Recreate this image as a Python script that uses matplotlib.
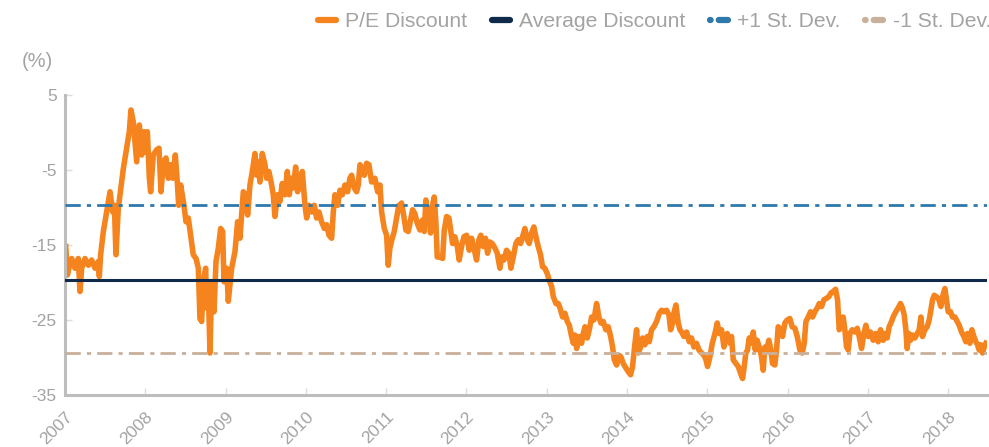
import matplotlib
matplotlib.use("Agg")
import matplotlib.pyplot as plt
from matplotlib.lines import Line2D

plt.rcParams['font.family'] = ['Liberation Sans', 'DejaVu Sans']

# P/E discount (decimal year, %)
years = [
    2007.010, 2007.030, 2007.060, 2007.083, 2007.125, 2007.166, 2007.187, 2007.208, 2007.249, 2007.291,
    2007.332, 2007.374, 2007.415, 2007.428, 2007.444, 2007.478, 2007.519, 2007.561, 2007.594, 2007.615,
    2007.635, 2007.664, 2007.685, 2007.727, 2007.768, 2007.801, 2007.822, 2007.851, 2007.872, 2007.893,
    2007.926, 2007.955, 2007.984, 2008.009, 2008.026, 2008.051, 2008.067, 2008.100, 2008.142, 2008.171,
    2008.196, 2008.225, 2008.258, 2008.287, 2008.316, 2008.341, 2008.374, 2008.399, 2008.416, 2008.441,
    2008.482, 2008.507, 2008.536, 2008.565, 2008.598, 2008.632, 2008.661, 2008.681, 2008.702, 2008.723,
    2008.752, 2008.764, 2008.785, 2008.806, 2008.827, 2008.856, 2008.881, 2008.910, 2008.939, 2008.964,
    2008.980, 2009.014, 2009.034,
    2009.076, 2009.117, 2009.150, 2009.179, 2009.221, 2009.250, 2009.275, 2009.304, 2009.333, 2009.366,
    2009.387, 2009.408, 2009.428, 2009.457, 2009.491, 2009.511, 2009.540, 2009.574, 2009.594, 2009.615,
    2009.648, 2009.677, 2009.706, 2009.740, 2009.769, 2009.794, 2009.823, 2009.843, 2009.873, 2009.897,
    2009.927, 2009.956, 2009.989, 2010.010, 2010.039, 2010.072, 2010.105, 2010.134, 2010.163, 2010.196,
    2010.230, 2010.259, 2010.288, 2010.321, 2010.342, 2010.362, 2010.396, 2010.425, 2010.454, 2010.487,
    2010.520, 2010.549, 2010.570, 2010.603, 2010.632, 2010.653, 2010.674, 2010.703, 2010.728, 2010.757,
    2010.786, 2010.819, 2010.860, 2010.894, 2010.923, 2010.944, 2010.977, 2011.006, 2011.026, 2011.047,
    2011.076, 2011.101, 2011.130, 2011.159,
    2011.172, 2011.192, 2011.221, 2011.246, 2011.275, 2011.304, 2011.329, 2011.358, 2011.387, 2011.421,
    2011.450, 2011.475, 2011.495, 2011.516, 2011.537, 2011.553, 2011.574, 2011.599, 2011.620, 2011.636,
    2011.670, 2011.703, 2011.724, 2011.753, 2011.782, 2011.803, 2011.827, 2011.856, 2011.886, 2011.910,
    2011.939, 2011.969, 2012.002, 2012.035, 2012.064, 2012.093, 2012.126, 2012.155, 2012.180, 2012.209,
    2012.238, 2012.263, 2012.292, 2012.321, 2012.355, 2012.384, 2012.417, 2012.438, 2012.467, 2012.500,
    2012.529, 2012.554, 2012.583, 2012.616, 2012.645, 2012.674, 2012.699, 2012.728, 2012.757, 2012.782,
    2012.811, 2012.840, 2012.865, 2012.894, 2012.923, 2012.948, 2012.977, 2013.006, 2013.031,
    2013.061, 2013.082, 2013.115, 2013.144, 2013.165, 2013.198, 2013.227, 2013.256, 2013.281, 2013.310,
    2013.331, 2013.351, 2013.372, 2013.405, 2013.434, 2013.455, 2013.476, 2013.505, 2013.530, 2013.559,
    2013.588, 2013.621, 2013.650, 2013.675, 2013.704, 2013.737, 2013.766, 2013.796, 2013.820, 2013.841,
    2013.870, 2013.899, 2013.924, 2013.953, 2013.986, 2014.016, 2014.045, 2014.069, 2014.099, 2014.119,
    2014.140, 2014.169, 2014.194, 2014.223, 2014.252, 2014.277, 2014.306, 2014.335, 2014.368, 2014.402,
    2014.431, 2014.460, 2014.493, 2014.522, 2014.543, 2014.568, 2014.584, 2014.609, 2014.638, 2014.659,
    2014.680, 2014.709, 2014.742, 2014.775, 2014.804, 2014.833, 2014.866, 2014.896, 2014.929, 2014.958,
    2014.983, 2015.003, 2015.033, 2015.062, 2015.095, 2015.124, 2015.149, 2015.178, 2015.207,
    2015.219, 2015.248, 2015.281, 2015.302, 2015.323, 2015.356, 2015.385, 2015.414, 2015.439, 2015.460,
    2015.480, 2015.501, 2015.522, 2015.547, 2015.572, 2015.597, 2015.621, 2015.646, 2015.675, 2015.696,
    2015.717, 2015.738, 2015.767, 2015.792, 2015.812, 2015.841, 2015.862, 2015.883, 2015.912, 2015.937,
    2015.966, 2015.995, 2016.028, 2016.057, 2016.091, 2016.120, 2016.153, 2016.182, 2016.207, 2016.228,
    2016.257, 2016.286, 2016.311, 2016.340, 2016.369, 2016.394, 2016.423, 2016.452, 2016.485, 2016.514,
    2016.539, 2016.568, 2016.597, 2016.622, 2016.643, 2016.672, 2016.692, 2016.713, 2016.734, 2016.755,
    2016.776, 2016.805, 2016.838, 2016.867, 2016.892, 2016.921, 2016.950, 2016.975, 2017.004, 2017.033,
    2017.066, 2017.095, 2017.128, 2017.157, 2017.191,
    2017.211, 2017.240, 2017.265, 2017.294, 2017.315, 2017.348, 2017.377, 2017.406, 2017.431, 2017.452,
    2017.473, 2017.489, 2017.510, 2017.531, 2017.556, 2017.585, 2017.614, 2017.639, 2017.660, 2017.680,
    2017.709, 2017.739, 2017.763, 2017.784, 2017.805, 2017.826, 2017.855, 2017.884, 2017.909, 2017.929,
    2017.959, 2017.979, 2018.000, 2018.029, 2018.054, 2018.083, 2018.112, 2018.137, 2018.166, 2018.195,
    2018.220, 2018.241, 2018.270, 2018.295, 2018.320, 2018.345, 2018.365, 2018.386, 2018.407, 2018.428,
    2018.448, 2018.469,
]
pe_discount = [
    -15.2, -19.0, -17.5, -16.8, -18.1, -16.8, -21.2, -18.1, -16.8, -17.7,
    -17.0, -18.1, -17.2, -19.2, -16.3, -13.2, -10.6, -7.9, -10.6, -9.7,
    -16.3, -10.1, -8.3, -4.8, -2.1, 0.1, 3.0, 1.4, -1.2, -3.9,
    1.0, -3.0, 0.1, -2.6, 0.1, -6.1, -7.9, -3.0, -2.3, -2.1,
    -7.9, -3.9, -3.4, -6.1, -4.3, -6.1, -3.0, -6.6, -9.7, -7.0,
    -9.7, -11.9, -11.4, -13.7, -16.3, -16.8, -18.1, -24.8, -25.2, -19.9,
    -18.1, -23.4, -20.8, -29.4, -19.9, -23.9, -17.2, -15.4, -12.8, -13.2,
    -19.9, -18.1, -22.5,
    -18.1, -15.9, -11.9, -14.1, -7.9, -8.3, -11.0, -7.0, -5.2, -2.8,
    -5.7, -3.9, -6.6, -2.8, -4.3, -6.1, -5.2, -7.0, -8.3, -11.2,
    -8.3, -9.2, -6.8, -8.3, -5.2, -8.3, -6.1, -7.4, -4.6, -7.9,
    -7.0, -5.2, -9.7, -11.4, -9.7, -10.6, -9.7, -11.4, -10.6, -11.9,
    -12.8, -12.3, -13.7, -14.1, -10.6, -8.3, -9.7, -7.7, -8.3, -7.0,
    -7.9, -6.1, -5.7, -7.4, -7.9, -7.0, -4.3, -4.8, -5.7, -4.1,
    -4.3, -6.6, -6.1, -7.9, -7.0, -10.6, -12.8, -13.7, -17.7, -15.4,
    -14.1, -13.2, -11.4, -9.7,
    -9.9, -9.4, -11.2, -13.0, -13.2, -11.7, -10.3, -10.8, -12.1, -13.0,
    -11.7, -13.2, -9.0, -11.7, -10.1, -13.4, -9.9, -8.6, -12.1, -16.6,
    -16.6, -16.8, -13.0, -11.2, -11.4, -13.0, -14.8, -13.9, -15.2, -17.0,
    -15.2, -13.9, -13.7, -15.7, -14.1, -15.4, -17.0, -14.3, -13.7, -15.2,
    -14.1, -16.1, -14.6, -14.8, -15.4, -16.1, -18.1, -16.6, -17.0, -15.7,
    -16.1, -18.1, -16.6, -14.8, -14.3, -14.8, -13.9, -12.8, -14.3, -14.8,
    -13.4, -12.6, -13.9, -15.2, -16.3, -17.9, -18.1, -18.8, -19.7,
    -20.5, -21.9, -22.8, -22.8, -23.4, -24.6, -24.1, -25.2, -25.7, -27.2,
    -28.1, -27.0, -28.8, -27.2, -28.1, -26.8, -25.9, -27.4, -26.3, -24.6,
    -25.0, -22.8, -24.6, -25.4, -25.2, -26.3, -25.9, -27.2, -28.6, -30.3,
    -31.0, -29.7, -29.9, -30.8, -31.4, -31.9, -32.3, -31.2, -28.1, -26.3,
    -29.4, -28.6, -27.4, -28.3, -27.2, -27.9, -26.3, -25.9, -25.2, -24.1,
    -23.7, -23.9, -23.7, -24.3, -26.3, -25.4, -24.1, -23.0, -25.4, -26.3,
    -26.6, -27.2, -26.6, -27.9, -27.4, -28.6, -28.1, -29.0, -29.4, -29.7,
    -30.3, -31.2, -29.9, -28.1, -26.8, -25.4, -26.8, -26.3, -28.6,
    -27.7, -26.8, -28.1, -27.2, -30.3, -30.8, -31.2, -32.1, -32.8, -31.2,
    -29.4, -29.0, -27.4, -28.1, -26.6, -29.0, -27.7, -28.6, -29.9, -31.7,
    -28.6, -29.0, -27.7, -29.0, -30.8, -31.0, -29.0, -25.9, -26.3, -27.2,
    -25.4, -25.0, -24.8, -25.9, -26.1, -27.2, -29.0, -29.4, -28.1, -25.2,
    -24.6, -23.9, -24.6, -23.9, -23.4, -22.8, -23.2, -22.3, -22.1, -21.9,
    -21.4, -21.2, -20.9, -22.3, -26.3, -25.4, -24.6, -26.3, -28.6, -29.0,
    -26.8, -26.3, -26.6, -26.1, -27.2, -28.8, -26.8, -25.7, -27.2, -26.6,
    -27.7, -26.8, -27.9, -26.3, -27.7,
    -26.8, -27.4, -25.9, -25.2, -24.6, -23.9, -23.4, -22.8, -23.4, -24.3,
    -26.3, -28.8, -26.8, -27.7, -27.0, -27.4, -26.8, -26.3, -24.6, -27.2,
    -26.3, -25.9, -25.0, -23.7, -22.3, -21.7, -21.9, -22.3, -23.2, -21.9,
    -20.8, -22.3, -23.9, -23.9, -24.6, -24.6, -25.2, -25.7, -26.6, -27.2,
    -27.9, -26.8, -28.1, -26.3, -27.2, -27.9, -28.3, -29.0, -28.3, -29.4,
    -28.6, -28.1,
]

avg_discount = -19.6
plus_1sd = -9.7
minus_1sd = -29.4

year_ticks = list(range(2007, 2019))
y_ticks = [5, -5, -15, -25, -35]
legend_labels = ['P/E Discount', 'Average Discount', '+1 St. Dev.', '-1 St. Dev.']

orange = '#f5841f'
navy = '#0f2a4a'
blue = '#2e78ab'
tan = '#c9b09a'
grey_txt = '#a3a3a3'
grey_axis = '#bdbdbd'

fig = plt.figure(figsize=(9.89, 4.47), dpi=100)
ax = fig.add_axes([0.0657, 0.1163, 0.932, 0.6712])

ax.plot(years, pe_discount, color=orange, lw=4.0, solid_joinstyle='round', zorder=2)
ax.axhline(avg_discount, color=navy, lw=2.2, zorder=3)
ax.axhline(plus_1sd, color=blue, lw=2.0, dashes=(5.5, 2.2, 1.5, 2.2), zorder=3)
ax.axhline(minus_1sd, color=tan, lw=2.0, dashes=(5.5, 2.2, 1.5, 2.2), zorder=3)

ax.set_xlim(2007, 2018.48)
ax.set_ylim(-35, 5)
ax.set_xticks(year_ticks)
ax.set_xticklabels([str(y) for y in year_ticks], rotation=45, ha='right',
                   rotation_mode='anchor')
ax.set_yticks(y_ticks)
ax.set_yticklabels([str(v) for v in y_ticks])

for side in ['top', 'right']:
    ax.spines[side].set_visible(False)
for side in ['left', 'bottom']:
    ax.spines[side].set_color(grey_axis)
    ax.spines[side].set_linewidth(2.2)

ax.tick_params(axis='both', colors='#dcdcdc', labelcolor=grey_txt, labelsize=12.5,
               direction='in', length=5, width=1)
ax.tick_params(axis='x', pad=10)
ax.tick_params(axis='y', pad=6)

fig.text(0.022, 0.85, '(%)', color=grey_txt, fontsize=14.5)

handles = [
    Line2D([], [], color=orange, lw=4.5, solid_capstyle='round'),
    Line2D([], [], color=navy, lw=4.5, solid_capstyle='round'),
    Line2D([], [], color=blue, lw=4.5, dash_capstyle='round', dashes=(0.1, 1.3, 2.2, 0.2)),
    Line2D([], [], color=tan, lw=4.5, dash_capstyle='round', dashes=(0.1, 1.3, 2.2, 0.2)),
]
fig.legend(handles, legend_labels, loc='upper right', bbox_to_anchor=(1.021, 1.015),
           ncol=4, frameon=False, fontsize=15.2, labelcolor=grey_txt,
           handlelength=0.85, handletextpad=0.45, columnspacing=1.15)

fig.savefig('out.png', dpi=100)
